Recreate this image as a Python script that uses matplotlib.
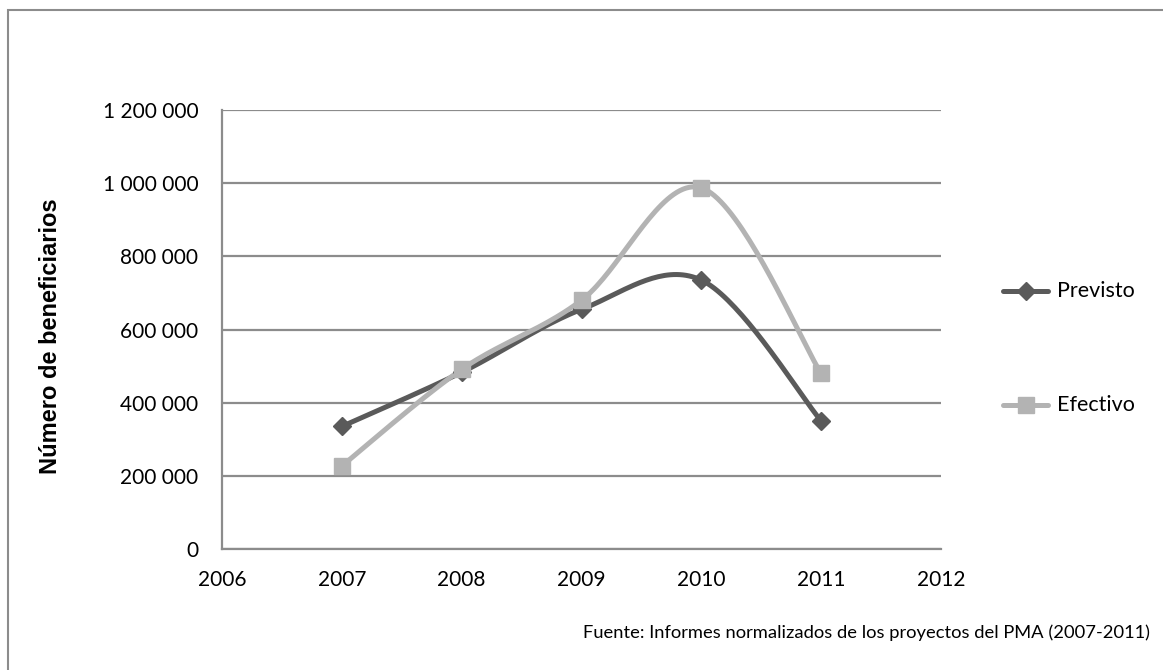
import numpy as np
import matplotlib
matplotlib.use("Agg")
import matplotlib.pyplot as plt
from matplotlib.lines import Line2D
from matplotlib.patches import Rectangle

# Data
years = [2007, 2008, 2009, 2010, 2011]
previsto = [335000, 483000, 655000, 735000, 350000]
efectivo = [227000, 491000, 680000, 987000, 480000]
series_names = ["Previsto", "Efectivo"]
x_ticks = [2006, 2007, 2008, 2009, 2010, 2011, 2012]
y_ticks = [0, 200000, 400000, 600000, 800000, 1000000, 1200000]

COL_PREV = "#5a5a5a"
COL_EFEC = "#b3b3b3"
GRID = "#8c8c8c"
FONT = "Lato"


def smooth(xs, ys, steps=40):
    """Bezier smoothing through every point (Catmull-Rom style tangents)."""
    p = np.column_stack([xs, ys]).astype(float)
    n = len(p)
    out = []
    for i in range(n - 1):
        p0 = p[i - 1] if i > 0 else p[i]
        p1 = p[i]
        p2 = p[i + 1]
        p3 = p[i + 2] if i + 2 < n else p[i + 1]
        c1 = p1 + (p2 - p0) / 6.0
        c2 = p2 - (p3 - p1) / 6.0
        t = np.linspace(0, 1, steps)[:, None]
        seg = ((1 - t) ** 3) * p1 + 3 * ((1 - t) ** 2) * t * c1 \
            + 3 * (1 - t) * t ** 2 * c2 + t ** 3 * p2
        out.append(seg if i == 0 else seg[1:])
    pts = np.vstack(out)
    return pts[:, 0], pts[:, 1]


def fmt(v):
    return f"{int(v):,}".replace(",", " ")


fig = plt.figure(figsize=(11.63, 6.70), dpi=100)
W, H = 1163, 670

# outer chart frame
fig.patches.append(Rectangle((8 / W, -0.1), 1.2, 1 - 10 / H + 0.1,
                             transform=fig.transFigure, fill=False,
                             edgecolor="#8c8c8c", linewidth=1.5))

ax = fig.add_axes([222 / W, 1 - 549 / H, (941 - 222) / W, (549 - 110) / H])
ax.set_xlim(2006, 2012)
ax.set_ylim(0, 1200000)
ax.set_xticks(x_ticks)
ax.set_yticks(y_ticks)
ax.set_xticklabels([str(v) for v in x_ticks], fontfamily=FONT, fontsize=15)
ax.set_yticklabels([fmt(v) for v in y_ticks], fontfamily=FONT, fontsize=15)
ax.tick_params(axis="y", length=0, pad=17)
ax.tick_params(axis="x", length=0, pad=15)
ax.grid(axis="y", color=GRID, linewidth=1.6)
ax.set_axisbelow(True)
for s in ["top", "right"]:
    ax.spines[s].set_visible(False)
for s in ["left", "bottom"]:
    ax.spines[s].set_color(GRID)
    ax.spines[s].set_linewidth(1.6)

for vals, col, mk, ms in [(previsto, COL_PREV, "D", 9), (efectivo, COL_EFEC, "s", 11)]:
    sx, sy = smooth(years, vals)
    ax.plot(sx, sy, color=col, linewidth=3.6, solid_capstyle="round", zorder=3)
    ax.plot(years, vals, linestyle="none", marker=mk, markersize=ms,
            color=col, markeredgecolor=col, zorder=4)

ax.set_ylabel("Número de beneficiarios", fontfamily="Liberation Sans",
              fontweight="bold", fontsize=17, labelpad=0)
ax.yaxis.set_label_coords(-(222 - 62) / (941 - 222), 0.484)

# legend drawn as two entries at fixed heights
for name, col, mk, ms, yy in [("Previsto", COL_PREV, "D", 9, 291),
                              ("Efectivo", COL_EFEC, "s", 11, 405)]:
    fy = 1 - yy / H
    fig.add_artist(Line2D([1003 / W, 1048 / W], [fy, fy], color=col, linewidth=3.6,
                          solid_capstyle="round", transform=fig.transFigure))
    fig.add_artist(Line2D([1025.5 / W], [fy], marker=mk, markersize=ms, color=col,
                          linestyle="none", transform=fig.transFigure))
    fig.text(1057 / W, fy, name, fontfamily=FONT, fontsize=15.5, va="center", ha="left")

fig.text(1150 / W, 1 - 633 / H,
         "Fuente: Informes normalizados de los proyectos del PMA (2007-2011)",
         fontfamily=FONT, fontsize=13.2, ha="right", va="center")

fig.savefig("out.png", dpi=100, facecolor="white")
